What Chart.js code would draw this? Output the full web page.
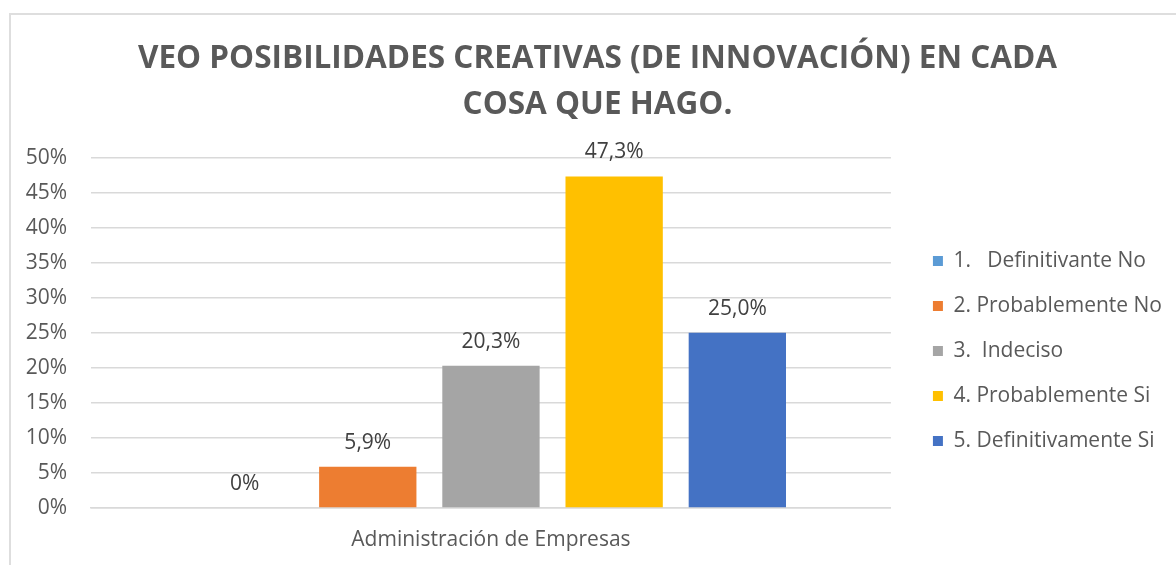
<!DOCTYPE html>
<html>
<head>
<meta charset="utf-8">
<script src="https://cdn.jsdelivr.net/npm/chart.js@4"></script>
<style>
  html, body { margin: 0; padding: 0; background: #fff; overflow: hidden; width: 1176px; height: 565px; }
  .frame { position: absolute; left: 9px; top: 13px; width: 1300px; height: 700px;
           border-left: 2px solid #dedede; border-top: 2px solid #dedede; }
  #chart { position: absolute; left: 0; top: 0; }
</style>
</head>
<body>
<div class="frame"></div>
<canvas id="chart" width="1194" height="580"></canvas>
<script>
// Data
const categories = ["Administración de Empresas"];
const seriesNames = [
  "1.   Definitivante No",
  "2. Probablemente No",
  "3.  Indeciso",
  "4. Probablemente Si",
  "5. Definitivamente Si"
];
const seriesValues = [0, 5.9, 20.3, 47.3, 25.0];
const seriesColors = ["#5B9BD5", "#ED7D31", "#A5A5A5", "#FFC000", "#4472C4"];
const yTicks = [0, 5, 10, 15, 20, 25, 30, 35, 40, 45, 50];
const titleLines = ["VEO POSIBILIDADES CREATIVAS (DE INNOVACIÓN) EN CADA", "COSA QUE HAGO."];

const FONT = "'Open Sans', sans-serif";
const TEXT = "#595959";
const LEGEND_GAP = 18; // space between plot and legend
const LEGEND_DY = 65;  // push legend items down

function pctLabel(v) {
  return v === 0 ? "0%" : v.toFixed(1).replace(".", ",") + "%";
}

// Value labels above each bar
const barLabels = {
  id: "barLabels",
  afterDatasetsDraw(chart) {
    const ctx = chart.ctx;
    ctx.save();
    ctx.font = "21px " + FONT;
    ctx.fillStyle = "#404040";
    ctx.textAlign = "center";
    ctx.textBaseline = "middle";
    chart.data.datasets.forEach((ds, i) => {
      const el = chart.getDatasetMeta(i).data[0];
      ctx.fillText(pctLabel(ds.data[0]), el.x, el.y - 24);
    });
    ctx.restore();
  }
};

const ctx = document.getElementById("chart").getContext("2d");
const chart = new Chart(ctx, {
  type: "bar",
  data: {
    labels: categories,
    datasets: seriesNames.map((name, i) => ({
      label: name,
      data: [seriesValues[i]],
      backgroundColor: seriesColors[i],
      borderWidth: 0,
      categoryPercentage: 0.77,
      barPercentage: 0.79
    }))
  },
  options: {
    responsive: false,
    animation: false,
    layout: { padding: { left: 23, right: 22, top: 0, bottom: 8 } },
    plugins: {
      title: {
        display: true,
        text: titleLines,
        color: TEXT,
        font: { family: FONT, size: 31.5, weight: "bold", lineHeight: 1.43 },
        padding: { top: 37, bottom: 30.5 }
      },
      legend: {
        position: "right",
        labels: {
          color: TEXT,
          font: { family: FONT, size: 21 },
          boxWidth: 10,
          boxHeight: 10,
          padding: 24
        }
      },
      tooltip: { enabled: false }
    },
    scales: {
      x: {
        grid: { display: false, drawTicks: false },
        border: { color: "#d9d9d9", width: 1.5 },
        ticks: { color: TEXT, font: { family: FONT, size: 21 }, padding: 19.4 }
      },
      y: {
        min: 0,
        max: 50,
        afterBuildTicks: (scale) => { scale.ticks = yTicks.map(v => ({ value: v })); },
        afterFit: (scale) => { scale.width = 68; },
        grid: { color: "#d9d9d9", lineWidth: 1.5, drawTicks: false },
        border: { display: false },
        ticks: {
          color: TEXT,
          font: { family: FONT, size: 21 },
          padding: 24,
          callback: (v) => v + "%"
        }
      }
    }
  },
  plugins: [barLabels]
});

// leave a gap between the plot area and the legend, and move its items down
const legend = chart.legend;
const fitLegend = legend.fit;
legend.fit = function () { fitLegend.call(this); this.width += LEGEND_GAP; };
const drawLegend = legend.draw;
legend.draw = function () {
  this.left += LEGEND_GAP;
  this.top += LEGEND_DY;
  this.bottom += LEGEND_DY;
  drawLegend.call(this);
  this.left -= LEGEND_GAP;
  this.top -= LEGEND_DY;
  this.bottom -= LEGEND_DY;
};
chart.update();
</script>
</body>
</html>
